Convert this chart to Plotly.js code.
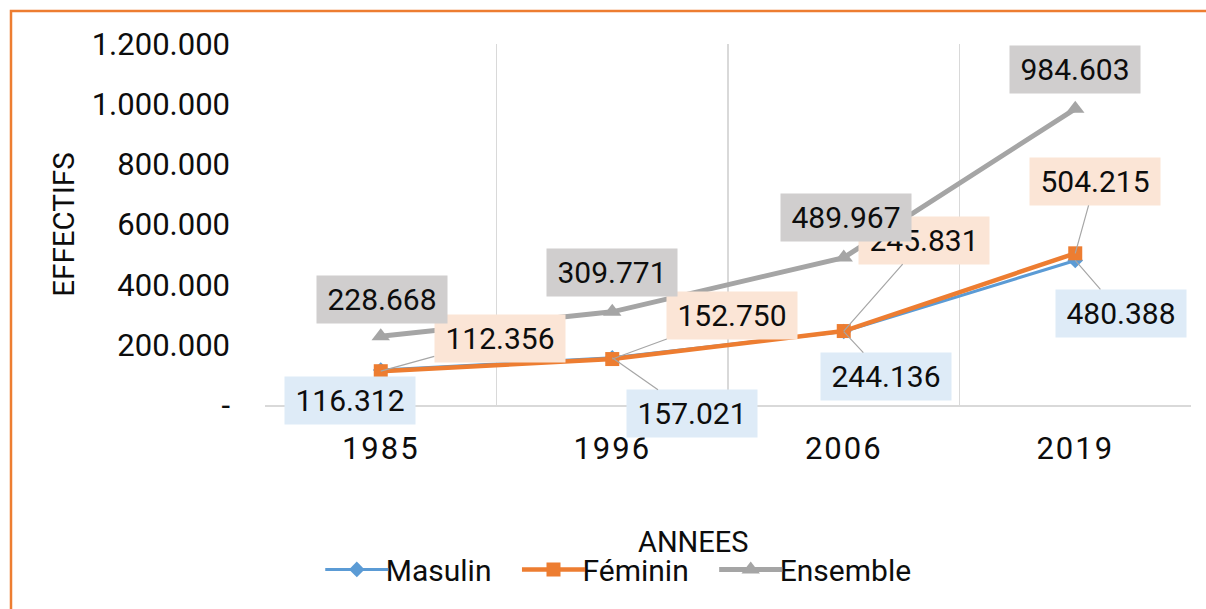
<!DOCTYPE html>
<html>
<head>
<meta charset="utf-8">
<script src="https://cdn.plot.ly/plotly-3.0.1.min.js"></script>
<style>
html,body{margin:0;padding:0;background:#fff;}
.xtick text{letter-spacing:2px !important;}
.legendtext{transform:translateX(-14px);}
.legendlines path{transform-box:fill-box;transform-origin:center;transform:scaleX(0.83);}
</style>
</head>
<body>
<div id="chart" style="width:1206px;height:609px;"></div>
<script>
// ---- data ----
const years = ['1985', '1996', '2006', '2019'];
const masulin = [116312, 157021, 244136, 480388];
const feminin = [112356, 152750, 245831, 504215];
const ensemble = [228668, 309771, 489967, 984603];
const yTickVals = [0, 200000, 400000, 600000, 800000, 1000000, 1200000];
const yTickText = ['-', '200.000', '400.000', '600.000', '800.000', '1.000.000', '1.200.000'];

// ---- label placement (pixel offsets from point to label) ----
const offMas = [[-31, 30, false], [80, 56, true], [42, 45, true], [46, 53, true]];
const offFem = [[119, -33, true], [120, -44, true], [80, -91, true], [20, -72, true]];
const offEns = [[1, -37, false], [0, -39, false], [2, -40, false], [0, -39, false]];

const FONT = 'Roboto, "Noto Sans", sans-serif';
const fmt = v => String(v).replace(/\B(?=(\d{3})+(?!\d))/g, '.');

function labels(vals, offs, bg) {
  return vals.map((v, i) => ({
    x: i, y: v, xref: 'x', yref: 'y',
    text: fmt(v),
    showarrow: true, arrowhead: 0, arrowwidth: 1.2,
    arrowcolor: offs[i][2] ? '#a6a6a6' : 'rgba(0,0,0,0)',
    ax: offs[i][0], ay: offs[i][1], standoff: 0,
    bgcolor: bg, borderpad: 5, width: 120, height: 37,
    font: {family: FONT, size: 30, color: '#0d0d0d'}
  }));
}

const traces = [
  {x: years, y: masulin, name: 'Masulin', type: 'scatter', mode: 'lines+markers',
   line: {color: '#5B9BD5', width: 3}, marker: {symbol: 'diamond', size: 12, color: '#5B9BD5'}},
  {x: years, y: feminin, name: 'Féminin', type: 'scatter', mode: 'lines+markers',
   line: {color: '#ED7D31', width: 4.5}, marker: {symbol: 'square', size: 14, color: '#ED7D31'}},
  {x: years, y: ensemble, name: 'Ensemble', type: 'scatter', mode: 'lines+markers',
   line: {color: '#A5A5A5', width: 5}, marker: {symbol: 'triangle-up', size: 16, color: '#A5A5A5'}}
];

const annotations = []
  .concat(labels(masulin, offMas, '#DEEBF7'))
  .concat(labels(feminin, offFem, '#FBE5D6'))
  .concat(labels(ensemble, offEns, '#D0CECE'));

annotations.push({
  xref: 'paper', yref: 'paper', x: 0.462, y: -0.38, xanchor: 'center', yanchor: 'middle',
  text: 'ANNEES', showarrow: false, font: {family: FONT, size: 29, color: '#0d0d0d'}
});

const layout = {
  width: 1206, height: 609,
  margin: {l: 265, r: 15, t: 44, b: 204},
  paper_bgcolor: '#ffffff', plot_bgcolor: '#ffffff',
  font: {family: FONT, size: 30, color: '#0d0d0d'},
  showlegend: true,
  legend: {orientation: 'h', xref: 'container', yref: 'container', x: 0.516, y: 0.065,
           xanchor: 'center', yanchor: 'middle', font: {family: FONT, size: 30, color: '#0d0d0d'},
           bgcolor: 'rgba(0,0,0,0)', itemwidth: 76, tracegroupgap: 0},
  xaxis: {type: 'category', categoryorder: 'array', categoryarray: years,
          range: [-0.5, 3.5], tickson: 'boundaries', showgrid: true, gridcolor: '#d9d9d9', gridwidth: 1.5,
          showline: true, linecolor: '#d9d9d9', linewidth: 1.5, ticks: '', zeroline: false,
          ticklabelstandoff: 15, tickfont: {family: FONT, size: 31, color: '#0d0d0d'}, fixedrange: true},
  yaxis: {range: [0, 1200000], tickvals: yTickVals, ticktext: yTickText, showgrid: false,
          zeroline: false, showline: false, ticks: '', ticklabelstandoff: 34,
          tickfont: {family: FONT, size: 31, color: '#0d0d0d'},
          title: {text: 'EFFECTIFS', font: {family: FONT, size: 29.5, color: '#0d0d0d'}, standoff: 8},
          automargin: false, fixedrange: true},
  shapes: [{type: 'rect', xref: 'paper', yref: 'paper', x0: -0.2743, x1: 1.2, y0: -1.0, y1: 1.0914,
            line: {color: '#ED7D31', width: 2.5}, fillcolor: 'rgba(0,0,0,0)', layer: 'below'}],
  annotations: annotations
};

Plotly.newPlot('chart', traces, layout, {displayModeBar: false, staticPlot: true});
</script>
</body>
</html>
